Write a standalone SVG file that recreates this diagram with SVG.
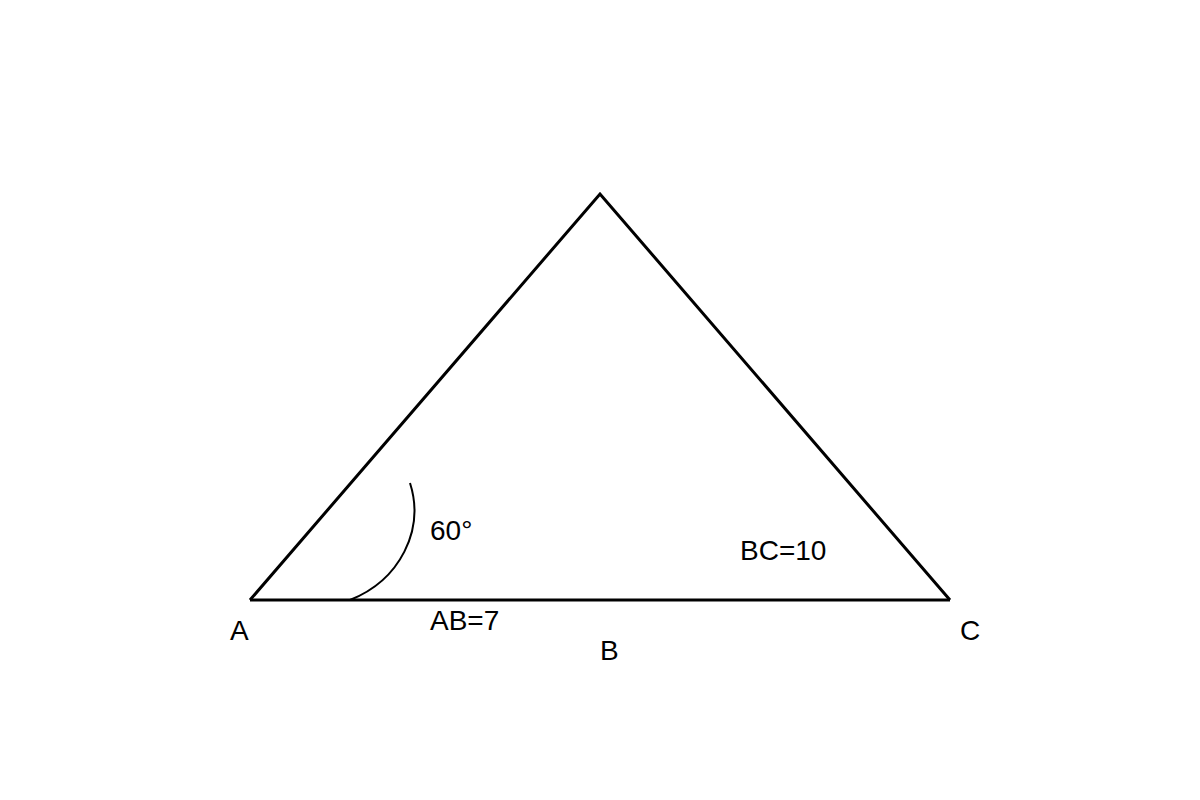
<svg xmlns="http://www.w3.org/2000/svg" width="1200" height="800" viewBox="0 0 1200 800">
<style>
.edge{fill:none;stroke:#000;stroke-width:3;stroke-linejoin:miter}
.arc{fill:none;stroke:#000;stroke-width:2}
text{font-family:"Liberation Sans",Arial,sans-serif;font-size:28px;fill:#000}
</style>
<rect width="1200" height="800" fill="#fff"/>
<g id="connectors">
<polyline class="edge" points="250,600 600,194 950,600"/>
<line class="edge" x1="250" y1="600" x2="950" y2="600"/>
<path class="arc" d="M350,600 C400,580 425,530 410,483"/>
</g>
<g id="labels">
<text x="430" y="540">60°</text>
<text x="740" y="560">BC=10</text>
<text x="430" y="630">AB=7</text>
<text x="230" y="640">A</text>
<text x="600" y="660">B</text>
<text x="960" y="640">C</text>
</g>
</svg>
